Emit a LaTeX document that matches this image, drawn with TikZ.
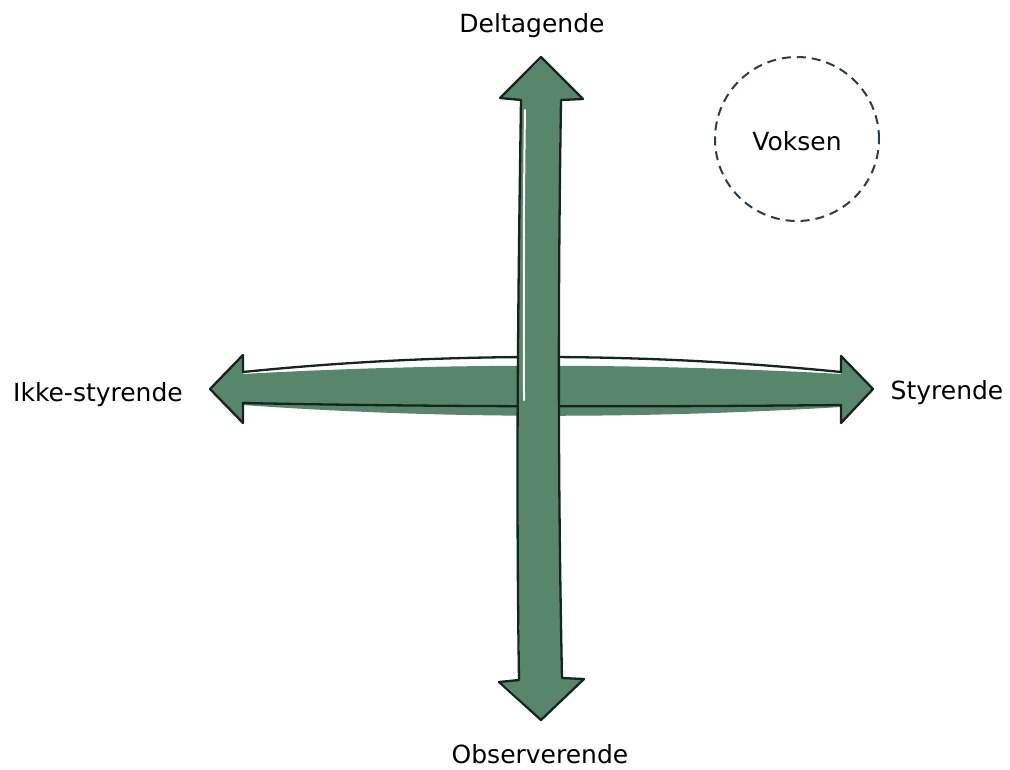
\documentclass[tikz,border=0pt]{standalone}
\usepackage{fontspec}
\setmainfont{DejaVu Sans}
\definecolor{arrowfill}{RGB}{88,134,107}
\definecolor{arrowline}{RGB}{22,36,32}
\definecolor{circline}{RGB}{45,60,72}
\begin{document}
\begin{tikzpicture}[x=1pt,y=-1pt,
  lbl/.style={font=\fontsize{25}{30}\selectfont, anchor=base, text=black, inner sep=0pt},
  arrowbody/.style={fill=arrowfill},
  arrowedge/.style={draw=arrowline, line width=2.3pt, line join=round},
  dashcircle/.style={draw=circline, line width=2pt, dash pattern=on 9pt off 6pt, circle, minimum size=164pt, inner sep=0pt}]
\useasboundingbox (0,0) rectangle (1010,769);
% horizontal arrow: fill (slightly offset, sketchy) then outline
\fill[arrowbody] (211,389) -- (243,356) -- (243,374) .. controls (440,363) and (640,363) .. (841,374) -- (841,357) -- (872,389) -- (841,422) -- (841,407) .. controls (640,419) and (440,419) .. (243,405) -- (243,422) -- cycle;
\draw[arrowedge] (210,389) -- (243,355) -- (243,372) .. controls (440,352) and (640,352) .. (841,372) -- (841,356) -- (873,389) -- (841,423) -- (841,405) .. controls (640,407) and (440,407) .. (243,403) -- (243,423) -- cycle;
% vertical arrow
\fill[arrowbody] (542,58) -- (582,99) -- (560,100) .. controls (558,300) and (560,480) .. (561,678) -- (583,679) -- (541,719) -- (500,682) -- (520,680) .. controls (517,480) and (517,300) .. (521,100) -- (501,98) -- cycle;
\draw[white, line width=2pt, line cap=round] (525,110) .. controls (523,250) and (524,330) .. (524,400);
\draw[white, line width=2pt, line cap=round] (504,686) -- (536,716);
\draw[arrowedge] (541,57) -- (583,99) -- (561,100) .. controls (558,300) and (558,480) .. (562,678) -- (584,679) -- (541,720) -- (499,682) -- (519,680) .. controls (516,480) and (518,300) .. (521,100) -- (500,98) -- cycle;
% circle
\node[dashcircle] (voksencircle) at (797,139) {};
% labels
\node[lbl] (deltagende) at (532,32) {Deltagende};
\node[lbl] (observerende) at (540,763) {Observerende};
\node[lbl] (ikke) at (98,401) {Ikke-styrende};
\node[lbl] (styrende) at (947,399) {Styrende};
\node[lbl] (voksen) at (797,150) {Voksen};
\end{tikzpicture}
\end{document}
